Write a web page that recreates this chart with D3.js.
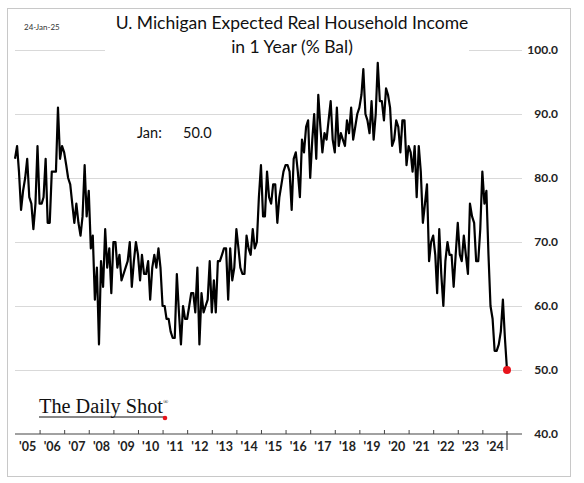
<!DOCTYPE html>
<html>
<head>
<meta charset="utf-8">
<script src="https://cdn.jsdelivr.net/npm/d3@7"></script>
<style>
  body { margin: 0; background: #fff; }
</style>
</head>
<body>
<svg id="chart" width="584" height="483" font-family="Lato, 'Noto Sans', sans-serif"></svg>
<script>
// monthly % balance, Jan 2005 .. Jan 2025
const startYear = 2005;
const values = [
  83, 85, 81, 75, 78, 80, 83, 77, 76, 72, 76, 85,
  76, 76, 77, 83, 73, 73, 81, 81, 81, 91, 83, 85,
  84, 82, 80, 79, 76, 73, 76, 73, 71, 74, 82, 74,
  78, 69, 71, 61, 66, 54, 67, 63, 72, 66, 69,
  62, 70, 70, 66, 68, 64, 65, 66, 67, 70, 63, 67,
  70, 68, 64, 68, 65, 65, 67, 61, 66, 68, 66, 69,
  66, 60, 60, 58, 58, 56, 55, 55, 65, 59, 54, 60,
  58, 58, 60, 62, 62, 59, 66, 54, 62, 59, 60, 61,
  67, 59, 64, 59, 67, 67, 68, 69, 69, 61, 69, 64,
  66, 72, 69, 66, 65, 65, 71, 69, 68, 72, 69, 70,
  77, 82, 74, 74, 81, 77, 76, 79, 79, 73, 77, 79,
  81, 82, 82, 81, 75, 83, 84, 81, 77, 86, 84, 88, 89,
  80, 86, 90, 83, 93, 88, 84, 87, 86, 89, 92, 86,
  84, 91, 85, 87, 86, 85, 89, 87, 91, 86, 88, 90,
  91, 93, 97, 90, 89, 87, 92, 86, 90, 98, 92, 92,
  89, 94, 93, 91, 85, 86, 89, 88, 84, 89,
  89, 82, 85, 84, 81, 85, 77, 85, 81, 73, 76, 79,
  67, 70, 71, 68, 62, 72, 65, 60, 67, 70, 68, 68,
  63, 68, 73, 68, 67, 71, 68, 65, 76, 74, 73, 67,
  67, 72, 81, 76, 78, 68, 60, 58, 53, 53, 54, 56,
  61, 55, 50
];
const yTicks = [40, 50, 60, 70, 80, 90, 100];
const yearLabels = ["'05","'06","'07","'08","'09","'10","'11","'12","'13","'14",
                    "'15","'16","'17","'18","'19","'20","'21","'22","'23","'24"];
const titleLines = ["U. Michigan Expected Real Household Income", "in 1 Year (% Bal)"];
const dateStamp = "24-Jan-25";
const lastMonthName = "Jan:";

const data = values.map((v, i) => ({date: new Date(startYear, i, 1), value: v}));
const last = data[data.length - 1];

const plotLeft = 15, plotRight = 522, plotTop = 50, plotBottom = 434;

const svg = d3.select("#chart");

// frame
svg.append("rect")
    .attr("x", 7.5).attr("y", 8.5)
    .attr("width", 563).attr("height", 468)
    .attr("fill", "#fff")
    .attr("stroke", "#c8c8c8");

const x = d3.scaleTime()
    .domain([new Date(startYear, 0, 1), last.date])
    .range([plotLeft, 507]);

const y = d3.scaleLinear()
    .domain([40, 100])
    .range([plotBottom, plotTop]);

// gridlines
svg.append("g")
    .attr("transform", "translate(" + plotRight + ",0)")
    .call(d3.axisLeft(y).tickValues(yTicks.slice(1)).tickSize(plotRight - plotLeft).tickFormat(""))
    .call(g => g.select(".domain").remove())
    .selectAll("line").attr("stroke", "#d9d9d9");

// y labels on the right
svg.append("g")
    .attr("transform", "translate(558,0)")
    .call(d3.axisLeft(y).tickValues(yTicks).tickSize(0).tickPadding(0).tickFormat(d3.format(".1f")))
    .call(g => g.select(".domain").remove())
    .selectAll("text")
    .style("font-family", "Lato, sans-serif")
    .style("font-weight", "bold")
    .style("font-size", "12px")
    .attr("fill", "#222");

// x axis line
svg.append("line")
    .attr("x1", plotLeft).attr("x2", plotRight)
    .attr("y1", plotBottom).attr("y2", plotBottom)
    .attr("stroke", "#444").attr("stroke-width", 1.2);

// year boundary ticks
const tickDates = d3.range(1, yearLabels.length).map(k => new Date(startYear + k, 0, 1));
svg.append("g")
    .attr("transform", "translate(0," + plotBottom + ")")
    .call(d3.axisBottom(x).tickValues(tickDates).tickSizeInner(-4).tickSizeOuter(0).tickFormat(""))
    .call(g => g.select(".domain").remove())
    .selectAll("line").attr("stroke", "#444");

// end marker
svg.append("line")
    .attr("x1", x(last.date)).attr("x2", x(last.date))
    .attr("y1", plotBottom - 3).attr("y2", plotBottom + 16)
    .attr("stroke", "#444").attr("stroke-width", 1.2);

// year labels centred in each year
const midDates = yearLabels.map((d, k) => new Date(startYear + k, 6, 1));
svg.append("g")
    .attr("transform", "translate(0," + plotBottom + ")")
    .call(d3.axisBottom(x).tickValues(midDates).tickSize(0).tickPadding(8)
        .tickFormat((d, i) => yearLabels[i]))
    .call(g => g.select(".domain").remove())
    .selectAll("text")
    .style("font-family", "Lato, sans-serif")
    .style("font-weight", "bold")
    .style("font-size", "12.5px")
    .attr("fill", "#222");

// title with white box behind it
svg.append("rect")
    .attr("x", 105).attr("y", 10)
    .attr("width", 364).attr("height", 50)
    .attr("fill", "#fff");

svg.selectAll(".title")
    .data(titleLines)
    .enter().append("text")
    .attr("class", "title")
    .attr("x", 292)
    .attr("y", (d, i) => 29 + i * 24)
    .attr("text-anchor", "middle")
    .style("font-size", "17.5px")
    .attr("fill", "#111")
    .text(d => d);

svg.append("text")
    .attr("x", 24).attr("y", 30)
    .style("font-size", "8px")
    .attr("fill", "#333")
    .text(dateStamp);

// line
const line = d3.line()
    .x(d => x(d.date))
    .y(d => y(d.value));

svg.append("path")
    .datum(data)
    .attr("fill", "none")
    .attr("stroke", "#000")
    .attr("stroke-width", 2.2)
    .attr("stroke-linejoin", "round")
    .attr("d", line);

svg.append("circle")
    .attr("cx", x(last.date))
    .attr("cy", y(last.value))
    .attr("r", 4)
    .attr("fill", "#e8141c");

// latest value note
svg.append("text")
    .attr("x", 137).attr("y", 138)
    .style("font-size", "14.5px")
    .attr("fill", "#111")
    .text(lastMonthName);

svg.append("text")
    .attr("x", 183).attr("y", 138)
    .style("font-size", "14.5px")
    .attr("fill", "#111")
    .text(d3.format(".1f")(last.value));

// logo
svg.append("text")
    .attr("x", 39).attr("y", 413)
    .style("font-family", "'Liberation Serif', 'DejaVu Serif', serif")
    .style("font-size", "20px")
    .attr("textLength", 124)
    .attr("lengthAdjust", "spacingAndGlyphs")
    .attr("fill", "#111")
    .text("The Daily Shot");

svg.append("text")
    .attr("x", 163).attr("y", 404)
    .style("font-family", "'Liberation Serif', serif")
    .style("font-size", "7px")
    .attr("fill", "#111")
    .text("®");

svg.append("line")
    .attr("x1", 39).attr("x2", 164)
    .attr("y1", 417).attr("y2", 417)
    .attr("stroke", "#111").attr("stroke-width", 1);

svg.append("circle")
    .attr("cx", 165).attr("cy", 418)
    .attr("r", 2.3)
    .attr("fill", "#e8141c");
</script>
</body>
</html>
